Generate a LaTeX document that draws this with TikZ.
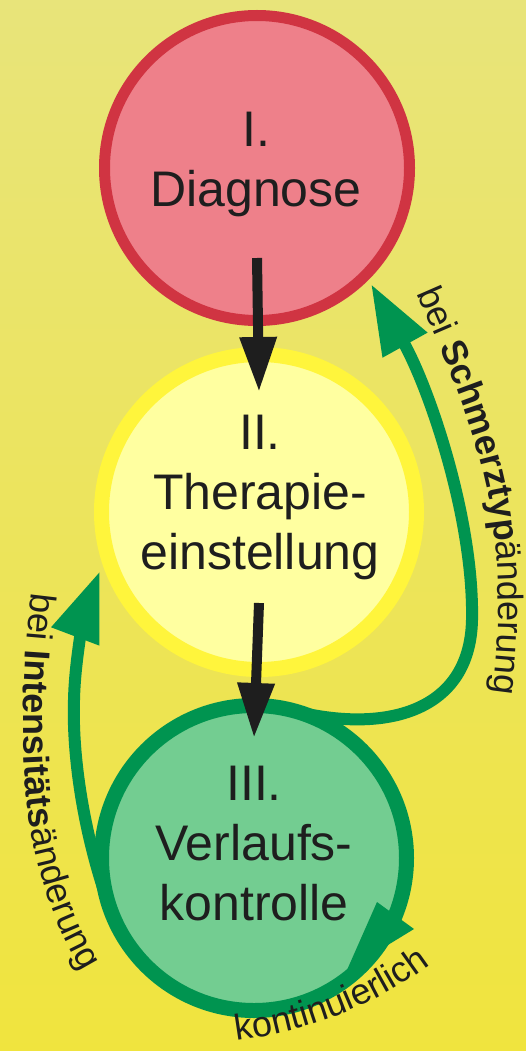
\documentclass[tikz,border=0pt]{standalone}
\usepackage{fontspec}
\setmainfont{Liberation Sans}
\usetikzlibrary{arrows.meta,decorations.text}
\definecolor{bgtop}{RGB}{232,228,122}
\definecolor{bgbot}{RGB}{240,228,62}
\definecolor{redring}{RGB}{208,52,66}
\definecolor{redfill}{RGB}{238,128,138}
\definecolor{yelring}{RGB}{255,245,60}
\definecolor{yelfill}{RGB}{255,255,160}
\definecolor{grring}{RGB}{0,148,80}
\definecolor{grfill}{RGB}{115,205,145}
\definecolor{ink}{RGB}{30,30,30}
\newcommand\lblfont{\fontsize{36}{40}\selectfont}
\begin{document}
\begin{tikzpicture}[x=1pt,y=-1pt,
  stage/.style={circle, draw, inner sep=0pt, outer sep=0pt},
  stagetext/.style={align=center, text=ink, font=\fontsize{50}{60}\selectfont, inner sep=0pt},
  blkarrow/.style={draw=ink, line width=10pt, -{Triangle[length=55pt,width=35pt]}},
  grarrow/.style={draw=grring, line width=12pt, -{Triangle[length=70pt,width=48pt]}},
  curvelabel/.style={decorate, decoration={text along path, text align=center, text color=ink}}
]
\useasboundingbox (0,0) rectangle (526,1051);
\shade[top color=bgtop, bottom color=bgbot] (0,0) rectangle (526,1051);

% stages
\node[stage, draw=redring, fill=redfill, line width=11pt, minimum size=305pt] (red) at (257,168) {};
\node[stage, draw=yelring, fill=yelfill, line width=15pt, minimum size=315pt] (yel) at (259,512) {};
\node[stage, draw=grring, fill=grfill, line width=15pt, minimum size=305pt] (grn) at (254,858) {};

\node[stagetext] (redtxt) at (256,164.4) {I.\\Diagnose};
\node[stagetext] (yeltxt) at (260,497.4) {II.\\Therapie-\\einstellung};
\node[stagetext] (grntxt) at (254,843.6) {III.\\Verlaufs-\\kontrolle};

% green feedback arrows
\coordinate (rtip) at (371,284);
\coordinate (ltip) at (100,571);
\draw[grarrow] (grn.78) .. controls (380,735) and (470,715) .. (472,620)
  .. controls (474,520) and (430,390) .. (rtip);
\draw[grarrow] (grn.200) .. controls (85,840) and (72,760) .. (74,700)
  .. controls (75,650) and (89,600) .. (ltip);

% continuous loop arrowhead
\coordinate (ka) at (377,902);
\coordinate (kb) at (414,929);
\coordinate (kc) at (347,970);
\fill[grring] (ka) -- (kb) -- (kc) -- cycle;

% main flow arrows
\draw[blkarrow] ([yshift=-90pt]red.center) -- ([yshift=120pt]yel.center);
\draw[blkarrow] ([yshift=-91pt]yel.center) -- ([yshift=120pt]grn.center);

% curved labels
\path[curvelabel, decoration={text={|\lblfont|bei |\lblfont\bfseries|Schmerztyp|\lblfont\mdseries|änderung}}]
  (410,278) .. controls (445,360) and (490,450) .. (497,560)
  .. controls (500,620) and (498,665) .. (490,710);
\path[curvelabel, decoration={text={|\lblfont|bei |\lblfont\bfseries|Intensitäts|\lblfont\mdseries|änderung}}]
  (38,548) .. controls (24,630) and (18,730) .. (28,810)
  .. controls (38,890) and (68,960) .. (108,1008);
\path[curvelabel, decoration={text={|\lblfont|kontinuierlich}}]
  (214,1043) .. controls (300,1036) and (385,1005) .. (448,950);
\end{tikzpicture}
\end{document}
